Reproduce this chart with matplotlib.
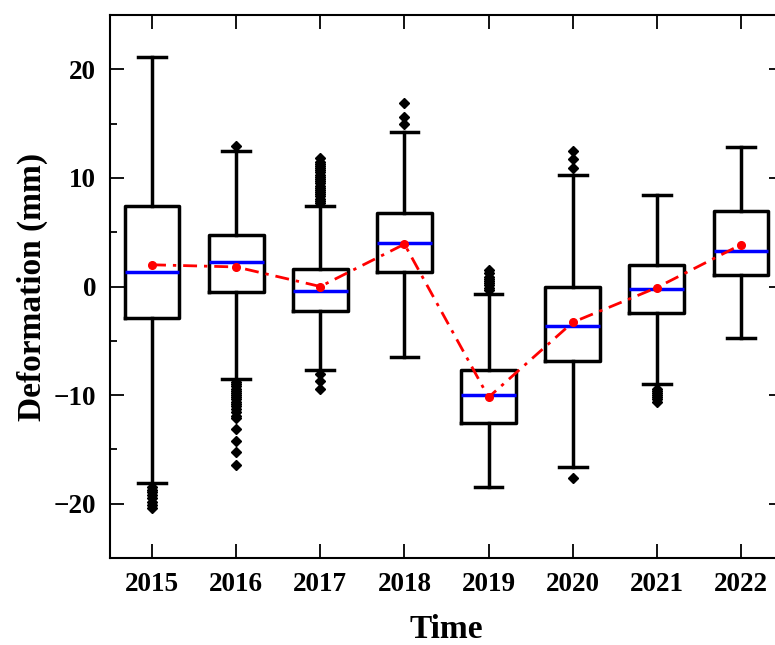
import numpy as np
import matplotlib
matplotlib.use('Agg')
import matplotlib.pyplot as plt
from matplotlib.ticker import MultipleLocator

plt.rcParams['font.family'] = ['Liberation Serif', 'DejaVu Serif']
plt.rcParams['font.weight'] = 'bold'

# box statistics (mm)
years = ['2015', '2016', '2017', '2018', '2019', '2020', '2021', '2022']
whislo = [-18.1, -8.5, -7.7, -6.5, -18.5, -16.6, -9.0, -4.7]
q1 = [-2.9, -0.55, -2.3, 1.35, -12.6, -6.9, -2.4, 1.1]
med = [1.3, 2.3, -0.4, 4.0, -10.0, -3.6, -0.2, 3.3]
q3 = [7.4, 4.75, 1.65, 6.75, -7.7, 0.0, 2.0, 6.95]
whishi = [21.1, 12.5, 7.4, 14.2, -0.65, 10.3, 8.4, 12.8]
means = [2.0, 1.8, 0.0, 3.9, -10.2, -3.3, -0.1, 3.85]
fliers = [
    [-18.5, -18.7, -18.9, -19.2, -19.5, -19.8, -20.1, -20.4],
    [12.9, -8.8, -9.0, -9.2, -9.4, -9.6, -9.8, -10.0, -10.2, -10.4, -10.6,
     -10.8, -11.0, -11.3, -11.6, -11.9, -12.1, -13.1, -14.2, -15.2, -16.4],
    [7.7, 7.9, 8.1, 8.3, 8.5, 8.7, 8.9, 9.1, 9.3, 9.5, 9.7, 9.9, 10.1, 10.3,
     10.5, 10.7, 10.9, 11.1, 11.3, 11.5, 11.8, -8.1, -8.7, -9.4],
    [15.0, 15.6, 16.9],
    [-0.3, -0.1, 0.1, 0.3, 0.5, 0.7, 0.9, 1.2, 1.5],
    [10.9, 11.7, 12.5, -17.6],
    [-9.4, -9.6, -9.8, -10.0, -10.2, -10.4, -10.6],
    [],
]

fig = plt.figure(figsize=(7.75, 6.45), dpi=100)
ax = fig.add_axes([110/775., 1-558/645., 673/775., 543/645.])

stats = []
for i in range(len(years)):
    stats.append({'whislo': whislo[i], 'q1': q1[i], 'med': med[i], 'q3': q3[i],
                  'whishi': whishi[i], 'fliers': fliers[i], 'label': years[i]})

pos = np.arange(1, len(years)+1)
ax.bxp(stats, positions=pos, widths=0.65, capwidths=0.33, showfliers=True,
       boxprops=dict(color='black', linewidth=2.5),
       whiskerprops=dict(color='black', linewidth=2.5),
       capprops=dict(color='black', linewidth=2.5),
       medianprops=dict(color='blue', linewidth=2.5),
       flierprops=dict(marker='D', markerfacecolor='black', markeredgecolor='black',
                       markersize=4.8, linestyle='none'))

# mean line
ax.plot(pos, means, color='red', linestyle=(0, (5, 2.5, 1.2, 2.5)), linewidth=2,
        marker='o', markersize=5.5, zorder=5)

ax.set_xlim(0.5, 8.5)
ax.set_ylim(-25, 25)
ax.set_xticks(pos)
ax.set_xticklabels(years)
ax.yaxis.set_major_locator(MultipleLocator(10))
ax.yaxis.set_minor_locator(MultipleLocator(5))
ax.tick_params(axis='both', which='both', direction='in', top=True, right=True,
               labelsize=19.5, width=1.3)
ax.tick_params(axis='both', which='major', length=10, pad=10)
ax.tick_params(axis='y', which='minor', length=5)
for lab in ax.get_xticklabels() + ax.get_yticklabels():
    lab.set_fontweight('bold')
for s in ax.spines.values():
    s.set_linewidth(1.5)

ax.set_xlabel('Time', fontsize=24, fontweight='bold', labelpad=12)
ax.set_ylabel('Deformation (mm)', fontsize=24, fontweight='bold', labelpad=4)

fig.savefig('out.png', dpi=100)
